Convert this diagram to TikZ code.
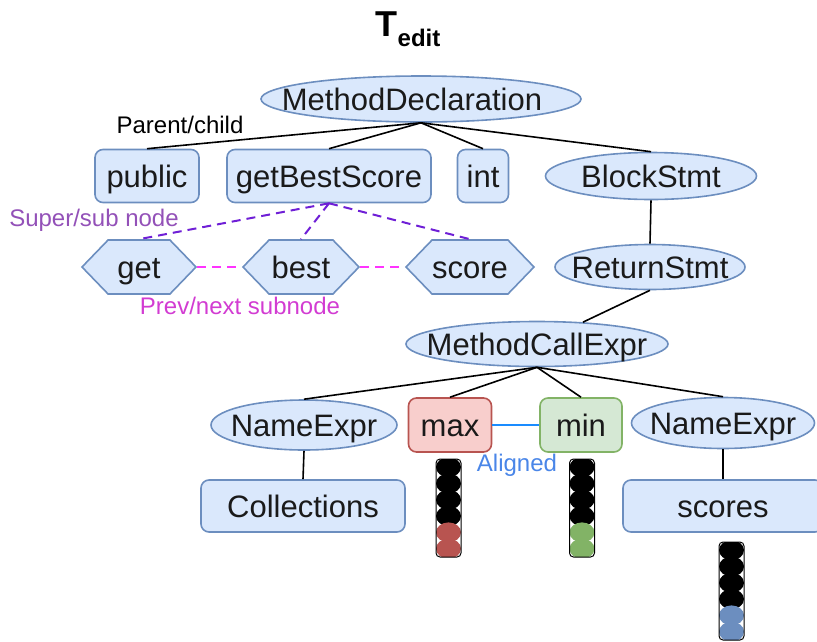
\documentclass[tikz,border=0pt]{standalone}
\usepackage{fontspec}
\setmainfont{Liberation Sans}
\usetikzlibrary{shapes.geometric,shapes.symbols}
\definecolor{nfill}{HTML}{DAE8FC}
\definecolor{nline}{HTML}{6C8EBF}
\definecolor{rfill}{HTML}{F8CECC}
\definecolor{rline}{HTML}{B85450}
\definecolor{gfill}{HTML}{D5E8D4}
\definecolor{gline}{HTML}{82B366}
\definecolor{supc}{HTML}{6F1FD6}
\definecolor{suplab}{HTML}{9351B8}
\definecolor{prevc}{HTML}{FF33FF}
\definecolor{prevlab}{HTML}{D23CD2}
\definecolor{alic}{HTML}{1A8CFF}
\definecolor{alilab}{HTML}{4A86E8}
\definecolor{txt}{HTML}{1A1A1A}
\newcommand\zw[1]{\makebox[0pt]{#1}}
\tikzset{
  base/.style={draw=nline, fill=nfill, line width=1.6pt, inner sep=0pt, text=txt,
    font=\fontsize{31}{36}\selectfont, text height=22pt, text depth=0pt},
  ell/.style={base, ellipse},
  rbox/.style={base, rectangle, rounded corners=8pt},
  hexa/.style={base, signal, signal to=west and east, signal pointer angle=92},
  edge/.style={line width=1.6pt, black},
  supedge/.style={line width=2pt, supc, dash pattern=on 9pt off 6pt},
  prevedge/.style={line width=2pt, prevc, dash pattern=on 9pt off 6pt},
  lab/.style={font=\fontsize{24}{28}\selectfont, inner sep=0pt}
}
\begin{document}
\begin{tikzpicture}[x=1pt,y=-1pt]
\useasboundingbox (0,0) rectangle (817,641);
% title
\node[inner sep=0pt, anchor=base] (title) at (408,36) {\fontsize{36}{40}\selectfont\bfseries T\raisebox{-10pt}{\fontsize{24}{28}\selectfont edit}};
% level 0
\node[ell, minimum width=320pt, minimum height=46pt] (md) at (421,99) {\zw{MethodDeclaration\hspace{18pt}}};
% level 1
\node[rbox, minimum width=104pt, minimum height=53pt] (pub) at (147,176) {public};
\node[rbox, minimum width=204pt, minimum height=53pt] (gbs) at (329,176) {getBestScore};
\node[rbox, minimum width=51pt, minimum height=53pt] (int) at (483,176) {int};
\node[ell, minimum width=211pt, minimum height=47pt] (bs) at (651,176) {\zw{BlockStmt}};
% subnodes
\node[hexa, minimum width=114pt, minimum height=54pt] (get) at (139,267) {get};
\node[hexa, minimum width=116pt, minimum height=54pt] (best) at (301,267) {best};
\node[hexa, minimum width=128pt, minimum height=54pt] (score) at (470,267) {score};
\node[ell, minimum width=190pt, minimum height=45pt] (rs) at (650,267) {\zw{ReturnStmt}};
\node[ell, minimum width=262pt, minimum height=45pt] (mc) at (537,344) {\zw{MethodCallExpr}};
% level 4
\node[ell, minimum width=186pt, minimum height=50pt] (ne1) at (304,425) {\zw{NameExpr}};
\node[rbox, draw=rline, fill=rfill, minimum width=83pt, minimum height=54pt] (max) at (450,425) {max};
\node[rbox, draw=gline, fill=gfill, minimum width=82pt, minimum height=54pt] (min) at (581,425) {min};
\node[ell, minimum width=183pt, minimum height=51pt] (ne2) at (723,423) {\zw{NameExpr}};
\node[rbox, minimum width=204pt, minimum height=52pt] (coll) at (303,506) {Collections};
\node[rbox, minimum width=200pt, minimum height=52pt] (scores) at (723,506) {scores};
% edges
\draw[edge] (md.south) -- (pub.north);
\draw[edge] (md.south) -- (gbs.north);
\draw[edge] (md.south) -- (int.north);
\draw[edge] (md.south) -- (bs.north);
\draw[edge] (bs.south) -- (rs.north);
\draw[edge] (rs.south) -- (mc);
\draw[edge] (mc.south) -- (ne1.north);
\draw[edge] (mc.south) -- (max.north);
\draw[edge] (mc.south) -- (min.north);
\draw[edge] (mc.south) -- (ne2.north);
\draw[edge] (ne1.south) -- (coll.north);
\draw[edge] (ne2.south) -- (scores.north);
\draw[supedge] (gbs.south) -- (get.north);
\draw[supedge] (gbs.south) -- (best.north);
\draw[supedge] (gbs.south) -- (score.north);
\draw[prevedge] (get.east) -- (best.west);
\draw[prevedge] (best.east) -- (score.west);
\draw[line width=1.8pt, alic] (max.east) -- (min.west);
% labels
\node[lab, text=black] (lpc) at (180,125) {Parent/child};
\node[lab, text=suplab] (lsup) at (94,220) {Super/sub node};
\node[lab, text=prevlab] (lprev) at (240,306) {Prev/next subnode};
\node[lab, text=alilab] (lali) at (517,465) {Aligned};
% embedding columns
\foreach \cx/\tp/\col in {448.5/459/rline, 582/459/gline, 731.5/542/nline}{
  \begin{scope}
    \clip[rounded corners=4pt] (\cx-12.5,\tp) rectangle (\cx+12.5,\tp+98);
    \fill[white] (\cx-12.5,\tp) rectangle (\cx+12.5,\tp+98);
    \foreach \i in {0,...,3}{
      \fill[black] (\cx,\tp+8.2+16.3*\i) ellipse [x radius=12.5, y radius=10];
    }
    \foreach \i in {4,5}{
      \fill[\col] (\cx,\tp+8.2+16.3*\i) ellipse [x radius=12.5, y radius=10];
    }
  \end{scope}
  \draw[black, line width=1pt, rounded corners=4pt] (\cx-12.5,\tp) rectangle (\cx+12.5,\tp+98);
}
\end{tikzpicture}
\end{document}
